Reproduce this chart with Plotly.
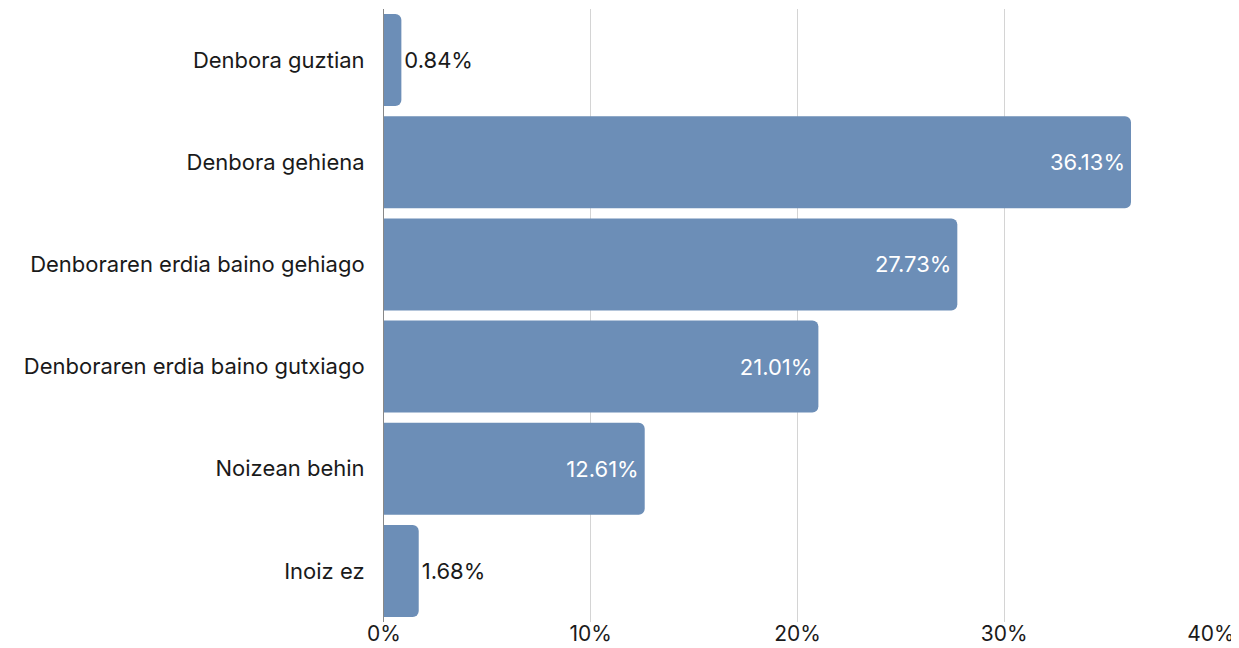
import plotly.graph_objects as go

categories = [
    "Denbora guztian",
    "Denbora gehiena",
    "Denboraren erdia baino gehiago",
    "Denboraren erdia baino gutxiago",
    "Noizean behin",
    "Inoiz ez",
]
values = [0.84, 36.13, 27.73, 21.01, 12.61, 1.68]
tick_vals = [0, 10, 20, 30, 40]
tick_text = ["0%", "10%", "20%", "30%", "40%"]

labels = [f"{v:.2f}%" for v in values]
positions = ["inside" if v > 5 else "outside" for v in values]
text_colors = ["#ffffff" if v > 5 else "#1a1a1a" for v in values]

FONT = "Inter"
FS = 22

fig = go.Figure(
    go.Bar(
        x=values,
        y=categories,
        orientation="h",
        marker=dict(color="#6c8eb7", line=dict(width=0)),
        text=labels,
        textposition=positions,
        insidetextanchor="end",
        textfont=dict(family=FONT, size=FS, color=text_colors),
        cliponaxis=False,
        hoverinfo="skip",
    )
)

# page body has an 8px margin, so the figure is sized/offset to compensate
fig.update_layout(
    width=1231,
    height=640,
    margin=dict(l=376, r=28, t=1, b=26, autoexpand=False),
    plot_bgcolor="#ffffff",
    paper_bgcolor="#ffffff",
    bargap=0.1,
    barcornerradius=6,
    showlegend=False,
    font=dict(family=FONT, size=FS, color="#1a1a1a"),
    uniformtext=dict(minsize=FS, mode="show"),
)

fig.update_xaxes(
    range=[0, 40],
    tickvals=tick_vals,
    ticktext=tick_text,
    showgrid=True,
    gridcolor="#d4d4d4",
    gridwidth=1,
    zeroline=False,
    showline=False,
    automargin=False,
    ticklabelstandoff=-3,
    tickfont=dict(family=FONT, size=21, color="#1a1a1a"),
    ticks="",
)

fig.update_yaxes(
    autorange="reversed",
    showgrid=False,
    showline=True,
    linecolor="#888888",
    linewidth=1,
    ticks="",
    automargin=False,
    ticklabelstandoff=14,
    tickfont=dict(family=FONT, size=FS, color="#1a1a1a"),
)

fig.write_html("out.html")
